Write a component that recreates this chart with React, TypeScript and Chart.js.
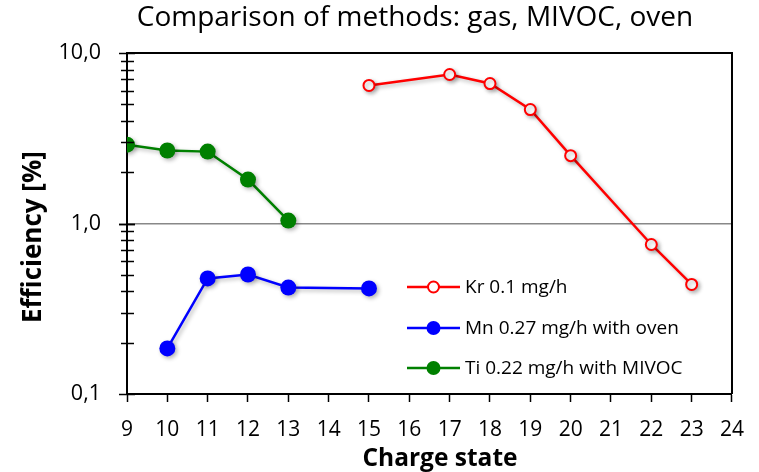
import React, { useEffect, useRef } from 'react';
import { Chart, registerables } from 'chart.js';

Chart.register(...registerables);

const chartTitle = 'Comparison of methods: gas, MIVOC, oven';
const xTitle = 'Charge state';
const yTitle = 'Efficiency [%]';

const xMin = 9;
const xMax = 24;
const yMin = 0.1;
const yMax = 10;
const yMajorTicks = [0.1, 1, 10];

const krCharge = [15, 17, 18, 19, 20, 22, 23];
const krEff = [6.45, 7.48, 6.62, 4.66, 2.5, 0.753, 0.439];

const mnCharge = [10, 11, 12, 13, 15];
const mnEff = [0.185, 0.476, 0.502, 0.421, 0.416];

const tiCharge = [9, 10, 11, 12, 13];
const tiEff = [2.9, 2.68, 2.64, 1.81, 1.04];

const seriesLabels = ['Kr 0.1 mg/h', 'Mn 0.27 mg/h with oven', 'Ti 0.22 mg/h with MIVOC'];
const seriesColors = ['#FF0000', '#0000FF', '#008000'];

const FONT = '"Open Sans", Lato, sans-serif';

const toPoints = (xs: number[], ys: number[]) => xs.map((x, i) => ({ x, y: ys[i] }));

const isMajor = (v: number) => yMajorTicks.some((m) => Math.abs(m - v) < 1e-9);

const decorPlugin = {
  id: 'decor',
  beforeDatasetsDraw(chart: any) {
    const ctx = chart.ctx;
    ctx.save();
    ctx.shadowColor = 'rgba(0,0,0,0.3)';
    ctx.shadowBlur = 4;
    ctx.shadowOffsetX = 2;
    ctx.shadowOffsetY = 2;
  },
  afterDatasetsDraw(chart: any) {
    chart.ctx.restore();
  },
  afterDraw(chart: any) {
    const ctx = chart.ctx;
    const { left, right, top, bottom } = chart.chartArea;
    const ys = chart.scales.y;
    ctx.save();
    // frame top / right
    ctx.strokeStyle = '#000';
    ctx.lineWidth = 2;
    ctx.beginPath();
    ctx.moveTo(left, top);
    ctx.lineTo(right, top);
    ctx.lineTo(right, bottom);
    ctx.stroke();
    // y ticks (crossing)
    ctx.lineWidth = 1.5;
    for (let e = -1; e < 1; e++) {
      for (let k = 1; k <= 10; k++) {
        const v = k * Math.pow(10, e);
        const py = Math.round(ys.getPixelForValue(v)) + 0.5;
        const major = isMajor(v);
        ctx.beginPath();
        ctx.moveTo(left - (major ? 8 : 6), py);
        ctx.lineTo(left + (major ? 8 : 7), py);
        ctx.stroke();
      }
    }
    // title
    ctx.fillStyle = '#000';
    ctx.textAlign = 'center';
    ctx.textBaseline = 'middle';
    ctx.font = `28px ${FONT}`;
    ctx.fillText(chartTitle, 415, 18);
    // axis titles
    ctx.font = `bold 24.5px ${FONT}`;
    ctx.fillText(xTitle, 440, 459);
    ctx.save();
    ctx.translate(34, 237);
    ctx.rotate(-Math.PI / 2);
    ctx.font = `bold 26px ${FONT}`;
    ctx.fillText(yTitle, 0, 0);
    ctx.restore();
    // legend
    const lx0 = 407;
    const lx1 = 460;
    const rows = [287, 328, 368];
    ctx.font = `19px ${FONT}`;
    ctx.textAlign = 'left';
    chart.data.datasets.forEach((ds: any, i: number) => {
      const y = rows[i];
      ctx.strokeStyle = ds.borderColor;
      ctx.lineWidth = 2.5;
      ctx.beginPath();
      ctx.moveTo(lx0, y);
      ctx.lineTo(lx1, y);
      ctx.stroke();
      ctx.beginPath();
      const cx = (lx0 + lx1) / 2;
      if (i === 0) {
        ctx.arc(cx, y, 5.5, 0, Math.PI * 2);
        ctx.fillStyle = '#fff';
        ctx.fill();
        ctx.lineWidth = 2;
        ctx.stroke();
      } else {
        ctx.arc(cx, y, 7, 0, Math.PI * 2);
        ctx.fillStyle = ds.borderColor;
        ctx.fill();
      }
      ctx.fillStyle = '#000';
      ctx.fillText(ds.label, 465, y + 1);
    });
    ctx.restore();
  },
};

export default function App() {
  const ref = useRef<HTMLCanvasElement>(null);
  useEffect(() => {
    if (!ref.current) return;
    const chart = new Chart(ref.current, {
      type: 'line',
      data: {
        datasets: [
          {
            label: seriesLabels[0],
            data: toPoints(krCharge, krEff),
            borderColor: seriesColors[0],
            backgroundColor: '#fff',
            pointBackgroundColor: '#fff',
            pointBorderColor: seriesColors[0],
            pointBorderWidth: 2,
            pointRadius: 5.5,
            borderWidth: 2.5,
          },
          {
            label: seriesLabels[1],
            data: toPoints(mnCharge, mnEff),
            borderColor: seriesColors[1],
            backgroundColor: seriesColors[1],
            pointBackgroundColor: seriesColors[1],
            pointBorderColor: seriesColors[1],
            pointBorderWidth: 0,
            pointRadius: 8,
            borderWidth: 2.5,
          },
          {
            label: seriesLabels[2],
            data: toPoints(tiCharge, tiEff),
            borderColor: seriesColors[2],
            backgroundColor: seriesColors[2],
            pointBackgroundColor: seriesColors[2],
            pointBorderColor: seriesColors[2],
            pointBorderWidth: 0,
            pointRadius: 8,
            borderWidth: 2.5,
          },
        ],
      },
      options: {
        responsive: true,
        maintainAspectRatio: false,
        animation: false,
        layout: { padding: { top: 53, right: 25, bottom: 0, left: 0 } },
        plugins: {
          legend: { display: false },
          title: { display: false },
          tooltip: { enabled: false },
        },
        scales: {
          x: {
            type: 'linear',
            min: xMin,
            max: xMax,
            ticks: {
              stepSize: 1,
              color: '#000',
              font: { family: FONT, size: 21 },
              padding: 15,
              autoSkip: false,
              maxRotation: 0,
            },
            grid: {
              drawOnChartArea: false,
              drawTicks: true,
              tickLength: 8,
              tickColor: '#000',
              tickWidth: 1.5,
            },
            border: { color: '#000', width: 2 },
            afterFit: (s: any) => {
              s.height = 78;
            },
          },
          y: {
            type: 'logarithmic',
            min: yMin,
            max: yMax,
            ticks: {
              autoSkip: false,
              color: '#000',
              font: { family: FONT, size: 21.5 },
              padding: 26,
              callback: (v: any) => (isMajor(Number(v)) ? Number(v).toFixed(1).replace('.', ',') : ''),
            },
            grid: {
              drawTicks: false,
              color: (c: any) => (c.tick && Math.abs(c.tick.value - 1) < 1e-9 ? '#888' : 'rgba(0,0,0,0)'),
              lineWidth: 1.5,
            },
            border: { color: '#000', width: 2 },
            afterFit: (s: any) => {
              s.width = 127;
            },
          },
        },
      },
      plugins: [decorPlugin],
    });
    return () => chart.destroy();
  }, []);
  return (
    <div style={{ position: 'fixed', left: 0, top: 0, width: 759, height: 472, background: '#fff' }}>
      <canvas ref={ref} />
    </div>
  );
}
